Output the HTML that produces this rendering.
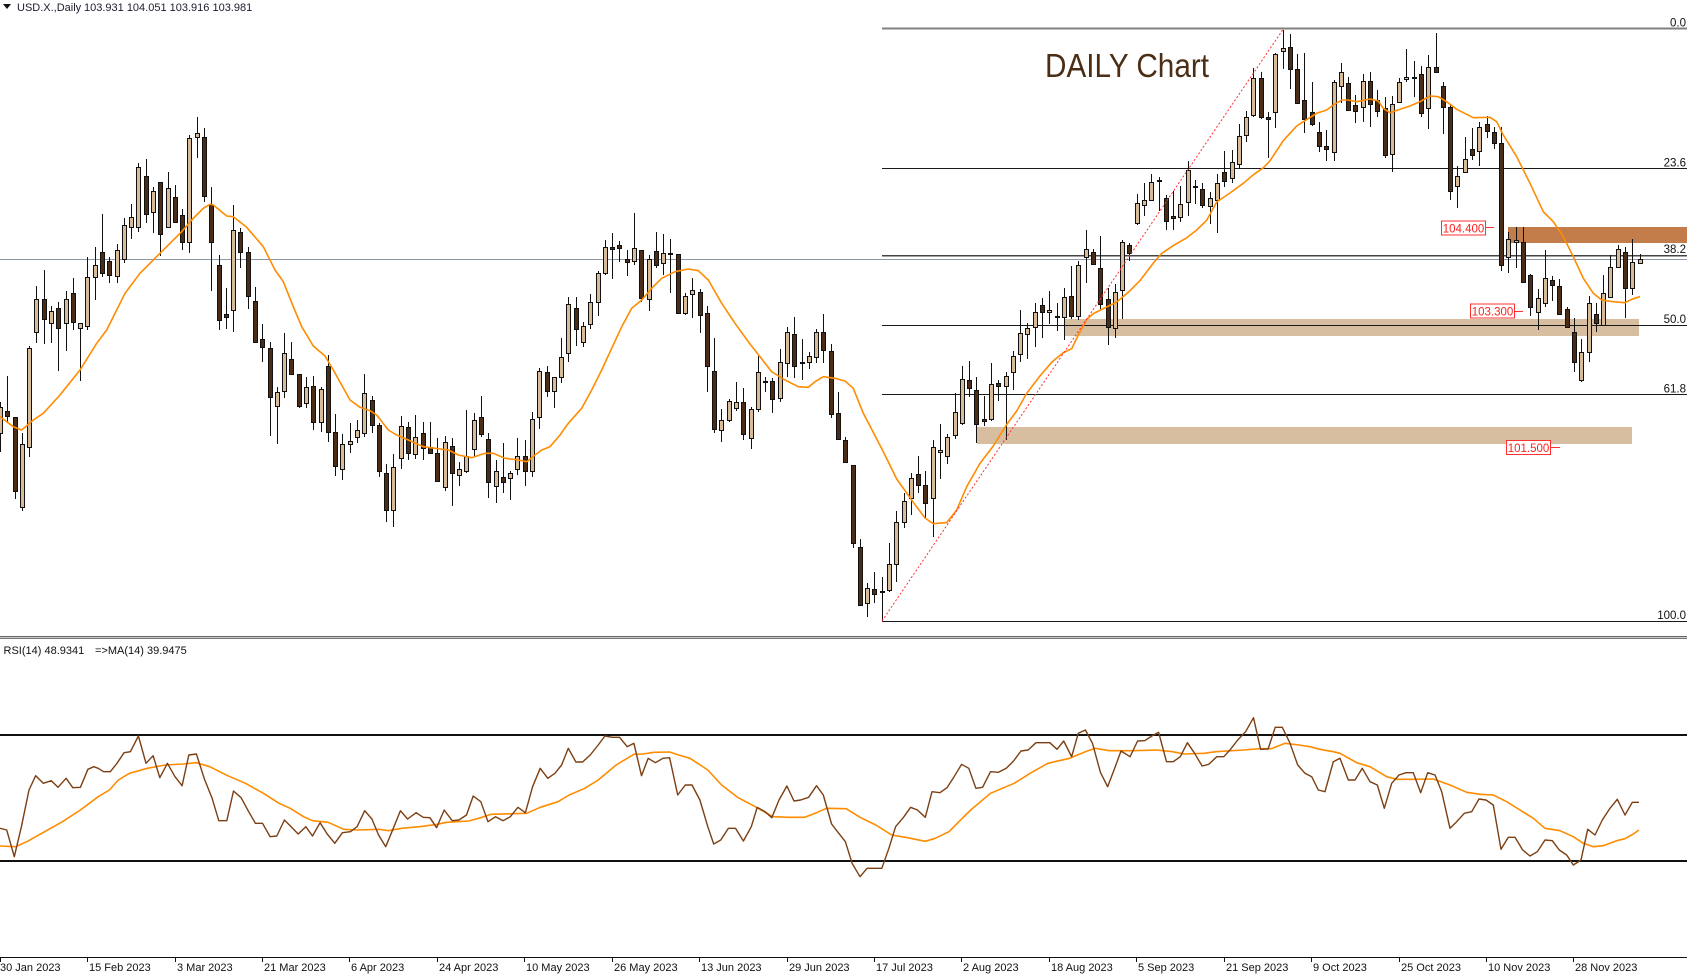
<!DOCTYPE html>
<html><head><meta charset="utf-8">
<style>html,body{margin:0;padding:0;background:#fff;overflow:hidden}svg{display:block}</style>
</head><body>
<svg id="s" width="1687" height="974" viewBox="0 0 1687 974" xmlns="http://www.w3.org/2000/svg" font-family="'Liberation Sans', Arial, sans-serif">
<rect width="1687" height="974" fill="#fff"/>
<!-- header -->
<polygon points="3,4 11,4 7,9" fill="#111"/>
<text x="17" y="11" font-size="11" fill="#1b1b2e">USD.X.,Daily</text>
<text x="84" y="11" font-size="11" fill="#1b1b2e">103.931 104.051 103.916 103.981</text>
<!-- zones -->
<rect x="1064" y="319" width="575" height="17" fill="#d7bea1"/>
<rect x="977" y="427" width="655" height="17" fill="#d7bea1"/>
<rect x="1508" y="227" width="179" height="16" fill="#c27d4b"/>
<!-- fib lines -->
<g shape-rendering="crispEdges">
<line x1="882" y1="28.5" x2="1687" y2="28.5" stroke="#808080" stroke-width="2"/>
<line x1="882" y1="168.5" x2="1687" y2="168.5" stroke="#1a1a1a"/>
<line x1="882" y1="255.5" x2="1687" y2="255.5" stroke="#444" stroke-width="1.5"/>
<line x1="882" y1="325.5" x2="1687" y2="325.5" stroke="#1a1a1a"/>
<line x1="882" y1="394.5" x2="1687" y2="394.5" stroke="#1a1a1a"/>
<line x1="882" y1="621.5" x2="1687" y2="621.5" stroke="#1a1a1a"/>
<line x1="0" y1="259.5" x2="1687" y2="259.5" stroke="#8e97aa"/>
</g>
<g font-size="11.5" fill="#111" text-anchor="end">
<text x="1686" y="26.5">0.0</text>
<text x="1686" y="166.5">23.6</text>
<text x="1686" y="253">38.2</text>
<text x="1686" y="323">50.0</text>
<text x="1686" y="392.5">61.8</text>
<text x="1686" y="619">100.0</text>
</g>
<!-- candles -->
<g id="c" stroke="#111" stroke-width="1" shape-rendering="crispEdges"></g>
<!-- MA -->
<polyline fill="none" stroke="#ff8c00" stroke-width="1.6" stroke-linejoin="round" points="0,416.7 13.3,426.7 21.7,430 33.3,420 43.3,413.3 60,395 80,370 96.7,343.3 106.7,330 116.7,310 125,293.3 140,273.3 160,253.3 181.7,231.7 191.7,220 203.3,208.3 210,204.3 213.3,205 226.7,216 233.3,216.7 246.7,227.3 263.3,246.7 275,270 283.3,281.7 293.3,306.7 301.7,326.7 313.3,346 325,356 333.3,370 350,400 360,407.3 370,410.7 376.7,415 388.3,430 396.7,435 408.3,440 423.3,446.7 435,448.3 448.3,450 458.3,455 471.7,457.7 485,453.3 493.3,453.3 505,458.3 518.3,460 526.7,461.7 535,455 541.7,450 550,446.7 560,435 568.3,423.3 581.7,408.3 591.7,390 601.7,370 611.7,348.3 621.7,326.7 631.7,308.3 641.7,300 651.7,288.3 661.7,278.3 675,271.7 688.3,269 698.3,270.7 708.3,280 721.7,303.3 735,323.3 748.3,341.7 760,356.7 771.7,371.7 785,380 798.3,386.7 808.3,387.3 815,381.7 823.3,376.7 835,378.3 845,381 853.3,388.3 863.3,413.3 870,426 883.3,451.7 896.7,479 913.3,502.3 925,518 933.3,523.7 946.7,522.6 956.7,510 966.7,486.7 980,463.4 993.3,446 1006.7,424.5 1016.7,411 1026.7,393.4 1040,375.9 1051.7,362.3 1063.3,352.6 1071.7,348.7 1078.3,335 1086.7,319.5 1093.3,313.6 1103.3,308.6 1116.7,302 1128.3,292.3 1140,280.6 1153.3,263.1 1161.7,253.4 1173.3,245.6 1186.7,237.8 1196.7,230 1206.7,220.3 1216.7,202 1230,193 1243.3,183.3 1253.3,174.8 1263.3,167.8 1270,160.8 1283.3,140.6 1296.7,126 1303.3,121.7 1316.7,113.3 1326.7,110 1333.3,105 1341.7,100 1348.3,100 1356.7,101.7 1370,99 1378.3,101 1383.3,108.3 1390,112.7 1400,109.3 1410,106 1420,101.7 1430,96 1438.3,96.7 1446.7,101.7 1456.7,109.3 1473.3,117.7 1490,117.3 1496.7,121.7 1503.3,135 1516.7,156.7 1530,183.3 1543.3,211.7 1553.3,221.7 1563.3,236.7 1573.3,256.7 1583.3,278.3 1593.3,293.3 1601.7,300 1613.3,301.7 1625,302.7 1631.7,299.3 1640,296.7"/>
<!-- red dotted trend line -->
<line x1="882" y1="621" x2="1283" y2="29.5" stroke="#ff3030" stroke-width="1" stroke-dasharray="2,2"/>
<!-- title -->
<text x="1045" y="77" font-size="33" fill="#4a2e16" textLength="164" lengthAdjust="spacingAndGlyphs">DAILY Chart</text>
<!-- price labels -->
<g font-size="11.5" fill="#ff2020" text-anchor="middle">
<rect x="1441.5" y="221" width="44" height="14" fill="#fff" stroke="#ff3030"/>
<text x="1463.5" y="232.5">104.400</text>
<line x1="1486" y1="227.5" x2="1494" y2="227.5" stroke="#ff3030"/>
<rect x="1470.5" y="304" width="44" height="14" fill="#fff" stroke="#ff3030"/>
<text x="1492.5" y="315.5">103.300</text>
<line x1="1515" y1="311.5" x2="1523" y2="311.5" stroke="#ff3030"/>
<rect x="1506.5" y="440.5" width="44" height="14" fill="#fff" stroke="#ff3030"/>
<text x="1528.5" y="452">101.500</text>
<line x1="1551" y1="447.5" x2="1560" y2="447.5" stroke="#ff3030"/>
</g>
<!-- separator -->
<g shape-rendering="crispEdges">
<line x1="0" y1="636.5" x2="1687" y2="636.5" stroke="#666"/>
<line x1="0" y1="637.5" x2="1687" y2="637.5" stroke="#ccc"/>
<line x1="0" y1="638.5" x2="1687" y2="638.5" stroke="#777"/>
</g>
<!-- RSI pane -->
<text x="3.5" y="654" font-size="11" fill="#111">RSI(14) 48.9341</text>
<text x="95" y="654" font-size="11" fill="#111">=&gt;MA(14) 39.9475</text>
<g shape-rendering="crispEdges">
<line x1="0" y1="735" x2="1687" y2="735" stroke="#111" stroke-width="2"/>
<line x1="0" y1="861" x2="1687" y2="861" stroke="#111" stroke-width="2"/>
</g>
<polyline fill="none" stroke="#ff8c00" stroke-width="1.6" stroke-linejoin="round" points="0,846 15.6,846.7 26.8,841.7 44.6,831.7 62.5,821.7 80.4,810 98.2,796.7 109.4,790 118.3,780 129.5,773.3 147.3,768.3 165.2,765 183,764 196.4,762.7 209.8,766.7 227.7,775.7 245.5,783.3 263.4,793.3 279,803.3 290.2,808.3 303.6,816.7 312.5,820.7 328.1,822.3 343.8,829.3 357.1,830 379.5,829.3 388.4,830.7 401.8,828.3 419.6,826.7 437.5,824.3 446.4,822.3 468.8,821 482.1,817.3 491.1,814.3 526.8,813.3 540.2,807.3 558,801.7 569.2,795 584.8,788.3 598.2,780 616.1,765 633.9,754.3 642.9,754 654,752.3 669.6,752 678.6,755 690,758.3 707.8,770 721.6,785 737.5,797.3 755.2,806.7 773,816.7 788.9,817.3 804.7,817.3 816.5,812.7 826.4,808.3 846.2,808.7 860,817.3 875.8,825 891.7,835 907.5,837.7 925.3,841.3 935.2,838.3 949,831.7 958.9,821.7 970.7,810 990.5,793.3 1014.2,783.3 1030.1,773.3 1047.9,763.3 1069.6,758.3 1085.4,751.7 1095.3,748.3 1109.2,750.7 1132.9,750.7 1156.7,750 1172.5,751.7 1184.3,754 1204,753.3 1215.9,751.7 1243.6,750 1259.4,748.7 1271.3,748.7 1285.1,743.3 1298.9,745 1310,746.7 1320,749.3 1333.3,751.7 1340,753.3 1356.7,762.7 1370,766.7 1386.7,776.7 1396.7,779.3 1413.3,779.3 1433.3,779 1450,785 1466.7,792.3 1480,794.3 1493.3,795 1506.7,801.7 1520,810 1533.3,818.3 1545,828.3 1560,830.7 1573.3,836.7 1583.3,843.3 1593.3,846.7 1603.3,845.7 1616.7,840.7 1625,838.7 1633.3,834 1639,830"/>
<polyline fill="none" stroke="#7b3f13" stroke-width="1.4" stroke-linejoin="round" points="0,828.3 6.7,830 14.3,856.7 21.4,826.7 29,790 35.7,775.7 43.3,783.3 51.3,780.7 58,787.3 66.1,778.3 72.8,787.7 80.4,787.3 87.9,769.3 93.8,766.7 98.2,768.3 103.6,771.7 110.3,771.7 117,763.3 124.1,752.7 130.4,751.7 138.4,736 146,763.3 153.1,755.7 159.8,777.7 167.4,763.3 175,776.7 182.1,785.7 188.8,755 196.4,754 204.5,779.3 212.1,798.3 218.8,820.7 226.8,820.7 233.5,791 241.1,797.7 248.7,811.7 255.4,823.3 262.5,823.3 270.1,836.7 276.8,836 284.4,820 291.1,826.7 298.2,834 305.8,826.7 312.5,836 320.1,822.7 327.2,834 334.8,843.3 342.4,832.7 350.4,831.7 357.1,826.7 364.7,810.7 371.9,819 378.6,835 385.7,846.7 392.9,829.3 400.4,810.7 407.6,819 416.1,812.7 423.2,817.3 429.9,817.7 436.6,827.7 444.2,810 452.2,820.7 458.9,820 466.5,815 473.2,796 480.8,801.7 488,821.7 495.5,816.7 503.1,820.7 510.3,816.7 517.9,807.3 525.4,812.7 532.6,786.7 540.2,768.3 547.8,778.3 554.9,773.3 561.6,765 568.3,748.3 575.9,762 582.6,762 590.2,755 598.2,745 604.9,736 612.5,737.3 619.6,737.3 627.2,746.7 633.9,743.3 641.5,775.7 648.2,758.3 655.4,762.7 662.9,758.3 669.6,757.7 677.7,795 685.3,785 692,785 699.9,800 707.8,826.7 713.7,844 720.8,840 728.4,828.3 735.5,828.3 743.4,841 751.3,826.7 757.2,807.3 765.1,811.7 771.8,817.7 779,800 786.9,786 794,801 800.7,800 808.6,797.3 816.5,785.7 823.3,795 831.6,824 838.3,832.7 845.4,841.7 852.1,863.3 860,876.7 867.1,868.3 873.9,868.3 881.8,868.3 888.9,848.3 895.6,826.7 903.5,817.3 910.6,807.3 917.4,810 925.3,817.3 932,791.7 939.9,792.7 947,787.7 954.1,776.7 961.6,764.3 968.8,768.3 975.9,788.3 982.6,787.3 990.5,771.7 998.4,772.3 1006.3,768.3 1013.5,761 1021,751 1028.1,750 1036,742.7 1043.1,742.7 1049.8,742.7 1057,749.3 1063.7,741 1071.6,756.7 1078.3,733.3 1085.4,730 1092.5,743.3 1100.4,772.3 1107.6,786.7 1114.3,769.3 1121,751 1130.1,756.7 1137.6,741 1144.7,740.7 1151.9,736 1158.6,732.3 1166.5,761.7 1173.3,761.7 1180.3,756.7 1187.4,742.7 1194.6,753.3 1202.1,766 1208.8,764.3 1216.7,756.7 1223.8,756.7 1230.5,749.3 1237.7,740 1245.6,731.7 1253.5,717.7 1260.6,749.3 1268.1,749 1275.2,727.3 1282.3,727.3 1289.8,742.7 1297.7,765 1305,773.3 1311.7,776.7 1318.3,790 1325,791.7 1333.3,761.7 1340,758.3 1348.3,780 1355,780 1362.3,768.3 1370,781.7 1377.3,785 1384.3,808.3 1391.7,783.3 1399,775 1406,772.7 1413.3,772.7 1420.7,792.7 1427.7,772.7 1435,775 1441.7,791.7 1450,828.3 1456.7,821.7 1464.3,813.3 1471.7,811.7 1479,799 1486,800 1493.3,805 1501,849.3 1508.3,837.3 1515,837.3 1522.7,850 1530,856 1537.3,851.7 1545,840 1552.3,840.7 1559.3,850 1566.7,855 1573.3,865 1581,860 1587.7,829.3 1595,835 1602.3,820 1610,808.3 1617.3,799.3 1625,815 1632.3,802.3 1639,802.3"/>
<!-- x axis -->
<g shape-rendering="crispEdges" stroke="#111">
<line x1="0" y1="957.5" x2="1687" y2="957.5"/>
<line x1="0.5" y1="957" x2="0.5" y2="962"/>
<line x1="87.5" y1="957" x2="87.5" y2="962"/>
<line x1="175.5" y1="957" x2="175.5" y2="962"/>
<line x1="262.5" y1="957" x2="262.5" y2="962"/>
<line x1="349.5" y1="957" x2="349.5" y2="962"/>
<line x1="437.5" y1="957" x2="437.5" y2="962"/>
<line x1="524.5" y1="957" x2="524.5" y2="962"/>
<line x1="612.5" y1="957" x2="612.5" y2="962"/>
<line x1="699.5" y1="957" x2="699.5" y2="962"/>
<line x1="787.5" y1="957" x2="787.5" y2="962"/>
<line x1="874.5" y1="957" x2="874.5" y2="962"/>
<line x1="961.5" y1="957" x2="961.5" y2="962"/>
<line x1="1049.5" y1="957" x2="1049.5" y2="962"/>
<line x1="1136.5" y1="957" x2="1136.5" y2="962"/>
<line x1="1224.5" y1="957" x2="1224.5" y2="962"/>
<line x1="1311.5" y1="957" x2="1311.5" y2="962"/>
<line x1="1399.5" y1="957" x2="1399.5" y2="962"/>
<line x1="1486.5" y1="957" x2="1486.5" y2="962"/>
<line x1="1573.5" y1="957" x2="1573.5" y2="962"/>
</g>
<g font-size="11" fill="#111">
<text x="0" y="971">30 Jan 2023</text>
<text x="89" y="971">15 Feb 2023</text>
<text x="177" y="971">3 Mar 2023</text>
<text x="264" y="971">21 Mar 2023</text>
<text x="351" y="971">6 Apr 2023</text>
<text x="439" y="971">24 Apr 2023</text>
<text x="526" y="971">10 May 2023</text>
<text x="614" y="971">26 May 2023</text>
<text x="701" y="971">13 Jun 2023</text>
<text x="789" y="971">29 Jun 2023</text>
<text x="876" y="971">17 Jul 2023</text>
<text x="963" y="971">2 Aug 2023</text>
<text x="1051" y="971">18 Aug 2023</text>
<text x="1138" y="971">5 Sep 2023</text>
<text x="1226" y="971">21 Sep 2023</text>
<text x="1313" y="971">9 Oct 2023</text>
<text x="1401" y="971">25 Oct 2023</text>
<text x="1488" y="971">10 Nov 2023</text>
<text x="1575" y="971">28 Nov 2023</text>
</g>
</svg>
<script>
var D=[
[1,407,433,402,452],[0,411,416,376,423],[0,417,491,417,499],[1,444,507,433,511],[1,348,447,346,457],
[1,299,332,286,343],[0,299,319,270,344],[1,311,323,306,343],[0,308,328,302,371],[1,299,323,291,351],
[0,293,322,278,330],[1,323,328,323,381],[1,277,326,257,330],[1,265,277,247,300],[0,252,273,214,277],
[0,261,275,257,283],[1,250,276,244,283],[1,225,259,218,263],[1,217,227,204,239],[1,167,227,163,232],
[0,176,214,159,223],[1,191,212,187,233],[0,182,234,182,256],[1,188,227,172,227],[0,197,222,185,223],
[0,215,242,209,250],[1,138,242,135,253],[1,133,137,117,158],[0,137,196,128,202],[0,205,242,187,291],
[0,265,320,255,330],[0,314,317,288,329],[1,230,310,205,332],[0,232,252,228,268],[0,252,296,247,309],
[0,301,342,287,342],[0,339,347,324,362],[0,348,397,342,436],[1,392,406,387,444],[1,353,391,333,398],
[0,359,374,342,374],[0,374,406,374,408],[1,387,403,377,408],[0,386,422,376,430],[1,389,422,387,432],
[0,366,432,355,442],[0,432,466,414,476],[1,444,469,434,480],[1,441,444,423,453],[1,430,437,420,443],
[1,393,433,374,437],[0,400,425,396,433],[0,425,471,423,477],[0,473,510,464,522],[1,467,510,454,527],
[1,426,458,416,469],[0,427,453,422,460],[1,437,454,415,459],[0,433,448,422,460],[0,447,453,422,453],
[0,453,481,438,482],
[1,442,487,436,491],[0,446,473,438,506],[1,469,475,462,486],[1,456,471,410,473],[1,420,449,413,457],
[0,417,434,396,437],[0,439,482,433,498],[1,471,486,460,503],[0,477,482,443,493],[1,473,478,471,500],
[1,456,469,438,475],[0,456,471,440,486],[1,419,471,412,477],[1,371,417,368,429],[0,372,391,366,397],
[1,377,391,377,408],[1,357,377,338,383],[1,304,353,297,362],[0,308,329,297,346],[1,326,342,322,347],
[1,302,324,294,329],[1,273,302,271,316],[1,247,273,240,275],[0,247,249,233,279],[0,245,248,241,262],
[0,259,262,250,276],[1,248,261,213,265],[0,250,298,250,302],[1,259,299,255,311],[0,251,265,232,268],
[1,253,263,234,275],[0,253,254,239,293],[0,254,313,254,314],[1,296,313,293,315],[1,290,294,278,318],
[0,292,315,289,333],[0,313,366,306,392],[0,371,429,338,433],[1,420,430,409,442],[1,401,420,399,422],
[1,402,408,382,411],[0,402,434,388,440],[1,409,438,407,449],[1,372,409,356,412],[1,381,382,377,392],
[0,381,399,378,413],[1,362,398,349,402],[1,332,363,327,377],[0,334,366,317,378],[1,362,363,339,380],
[1,356,362,352,369],[1,332,357,329,363],[0,332,350,314,363],[0,351,414,344,418],[0,413,439,392,440],
[0,440,462,437,463],[0,465,543,465,548],[0,547,605,539,606],[1,588,603,583,617],
[0,589,594,572,603],[0,591,592,577,621],[1,564,590,543,592],[1,522,564,511,582],[1,501,522,493,528],
[1,478,498,473,515],[0,474,485,456,493],[0,485,503,471,518],[1,447,498,440,537],[1,450,452,424,479],
[1,437,456,434,464],[1,412,435,393,439],[1,379,423,366,425],[0,380,388,361,397],[0,390,424,377,443],
[0,419,421,396,426],[1,384,419,363,421],[0,383,386,380,401],[1,376,386,372,440],[1,356,372,351,390],
[1,333,354,310,362],[1,328,334,323,359],[1,312,327,303,347],[0,305,312,298,338],[1,310,312,291,324],
[1,316,317,303,331],[1,297,317,288,340],[0,296,316,266,319],[1,265,316,261,320],[1,249,257,230,283],
[0,252,264,249,265],[0,268,304,236,309],[0,299,327,288,345],[1,292,328,284,338],[1,242,290,240,319],
[0,245,253,243,261],[1,203,223,194,225],[1,200,205,183,216],[1,182,200,174,201],[1,180,181,177,211],
[0,198,221,195,230],[0,216,218,191,230],[1,204,217,186,222],[1,170,202,161,216],[1,186,187,180,204],
[0,189,205,183,208],[1,198,206,192,224],[1,183,200,174,233],[0,172,181,151,187],[1,162,178,150,183],
[1,136,164,124,168],[1,117,135,111,142],[1,78,115,68,117],[0,78,117,72,119],[0,117,119,112,158],
[1,54,112,53,128],[1,48,51,30,69],[0,47,69,34,89],[0,69,103,54,104],[0,100,119,53,133],
[0,112,124,82,126],[0,132,146,122,152],[0,146,149,130,161],[1,82,152,80,161],[1,72,86,63,103],
[0,83,110,77,111],[0,105,111,95,123],[1,81,107,74,122],[0,81,104,72,127],[0,100,111,90,117],
[0,108,155,97,158],[1,104,154,96,172],[1,82,102,78,103],[1,77,79,49,82],[0,77,78,61,97],
[0,74,113,66,117],[1,67,108,55,129],[0,67,72,33,73],[0,86,107,82,134],[0,107,191,105,200],
[1,176,186,166,208],[1,159,172,137,173],[0,149,155,128,160],[1,127,151,122,166],[0,124,131,116,138],
[0,132,143,127,149],[0,143,265,127,271],[1,239,257,232,273],[1,240,242,227,268],[0,242,282,227,282],
[0,275,307,274,316],[1,298,312,289,330],[1,278,303,250,307],[0,280,285,276,301],[0,286,314,279,315],
[0,309,327,307,328],[0,332,362,318,372],[1,352,380,339,382],[1,303,352,296,362],[0,314,323,303,332],
[1,293,325,275,325],[1,267,297,255,297],[1,249,267,245,268],[0,252,288,247,318],[1,262,288,239,295],
[1,259,263,254,264]
];
(function(){
var ns="http://www.w3.org/2000/svg",g=document.getElementById("c");
for(var i=0;i<D.length;i++){
var c=D[i],x=Math.round(i*7.287);
var l=document.createElementNS(ns,"line");
l.setAttribute("x1",x+0.5);l.setAttribute("x2",x+0.5);
l.setAttribute("y1",c[3]);l.setAttribute("y2",c[4]);
g.appendChild(l);
var t=Math.round(c[1]),b=Math.round(c[2]);if(b-t<1)b=t+1;
var r=document.createElementNS(ns,"rect");
r.setAttribute("x",x-1.5);r.setAttribute("y",t+0.5);
r.setAttribute("width",4);r.setAttribute("height",b-t);
r.setAttribute("fill",c[0]?"#d8bc9a":"#4b2d17");
g.appendChild(r);
}
})();
</script>
</body></html>
